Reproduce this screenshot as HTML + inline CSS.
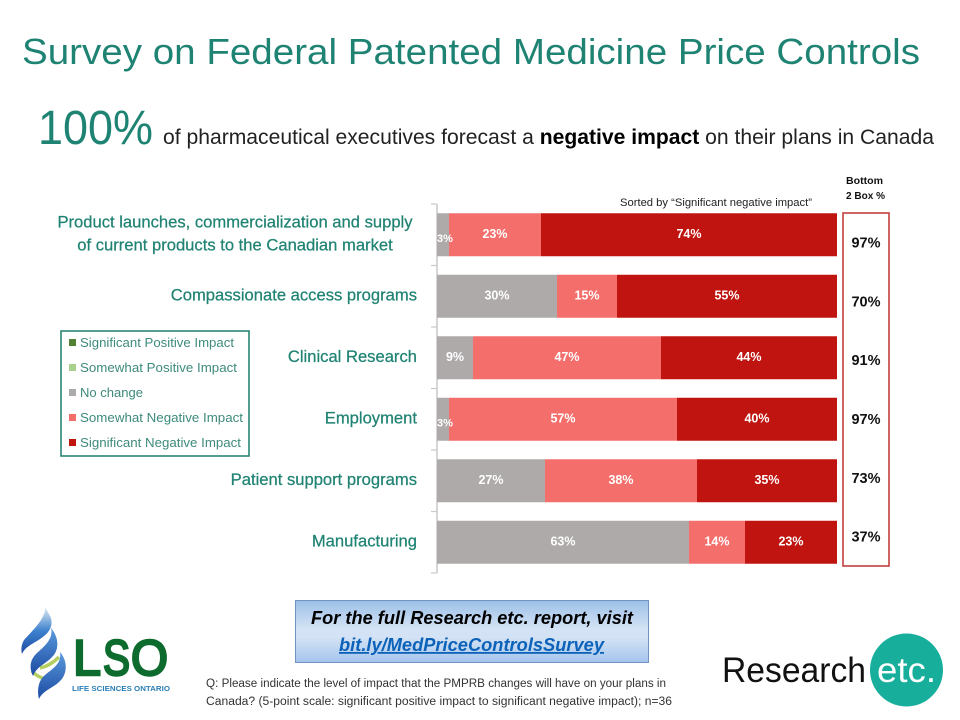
<!DOCTYPE html>
<html lang="en">
<head>
<meta charset="utf-8">
<title>Survey on Federal Patented Medicine Price Controls</title>
<style>
html,body{margin:0;padding:0;background:#fff;width:960px;height:720px;overflow:hidden}
svg{display:block;font-family:"Liberation Sans",sans-serif}
</style>
</head>
<body>
<svg id="slide" xmlns="http://www.w3.org/2000/svg" width="960" height="720" viewBox="0 0 960 720">
  <defs>
    <linearGradient id="cta" x1="0" y1="0" x2="0" y2="1">
      <stop offset="0" stop-color="#9cc0e8"/>
      <stop offset=".45" stop-color="#d3e2f4"/>
      <stop offset=".6" stop-color="#d3e2f4"/>
      <stop offset="1" stop-color="#a4c5ee"/>
    </linearGradient>
    <linearGradient id="helix" x1="0" y1="0" x2="0" y2="1">
      <stop offset="0" stop-color="#e3ecf4"/>
      <stop offset=".5" stop-color="#3f83cf"/>
      <stop offset="1" stop-color="#1c4aa3"/>
    </linearGradient>
    <linearGradient id="helix2" x1="0" y1="0" x2="0" y2="1">
      <stop offset="0" stop-color="#5b9bdc"/>
      <stop offset="1" stop-color="#1c4aa3"/>
    </linearGradient>
  </defs>
  <rect width="960" height="720" fill="#fff"/>
  <text x="22" y="64" font-size="36" fill="#1f8374" textLength="898" lengthAdjust="spacingAndGlyphs">Survey on Federal Patented Medicine Price Controls</text>
  <text x="38" y="144" font-size="48" fill="#1f8374" textLength="115" lengthAdjust="spacingAndGlyphs">100%</text>
  <text x="163" y="144" font-size="21" fill="#222" textLength="771" lengthAdjust="spacingAndGlyphs">of pharmaceutical executives forecast a <tspan font-weight="700" fill="#000">negative impact</tspan> on their plans in Canada</text>

  <g id="chart"></g>

  <text x="620" y="206" font-size="11" fill="#222" textLength="192" lengthAdjust="spacingAndGlyphs">Sorted by “Significant negative impact”</text>
  <text x="846" y="184" font-size="10.5" font-weight="700" fill="#111" textLength="37" lengthAdjust="spacingAndGlyphs">Bottom</text>
  <text x="846" y="199" font-size="10.5" font-weight="700" fill="#111" textLength="39" lengthAdjust="spacingAndGlyphs">2 Box %</text>

  <g>
    <rect x="61" y="331" width="188" height="125" fill="#fff" stroke="#2a8574" stroke-width="1.6"/>
    <rect x="69" y="339" width="7" height="7" fill="#548235"/>
    <text x="80" y="347" font-size="12.5" fill="#3e8a7d" textLength="154" lengthAdjust="spacingAndGlyphs">Significant Positive Impact</text>
    <rect x="69" y="364" width="7" height="7" fill="#a9d18e"/>
    <text x="80" y="372" font-size="12.5" fill="#3e8a7d" textLength="157" lengthAdjust="spacingAndGlyphs">Somewhat Positive Impact</text>
    <rect x="69" y="389" width="7" height="7" fill="#aeaaaa"/>
    <text x="80" y="397" font-size="12.5" fill="#3e8a7d" textLength="63" lengthAdjust="spacingAndGlyphs">No change</text>
    <rect x="69" y="414" width="7" height="7" fill="#f46f6b"/>
    <text x="80" y="422" font-size="12.5" fill="#3e8a7d" textLength="163" lengthAdjust="spacingAndGlyphs">Somewhat Negative Impact</text>
    <rect x="69" y="439" width="7" height="7" fill="#bf140f"/>
    <text x="80" y="447" font-size="12.5" fill="#3e8a7d" textLength="161" lengthAdjust="spacingAndGlyphs">Significant Negative Impact</text>
  </g>

  <g>
    <rect x="295.5" y="600.5" width="353" height="62" fill="url(#cta)" stroke="#6f94c0"/>
    <text x="311" y="624" font-size="18" font-weight="700" font-style="italic" fill="#000" textLength="322" lengthAdjust="spacingAndGlyphs">For the full Research etc. report, visit</text>
    <text x="339" y="651" font-size="18" font-weight="700" font-style="italic" fill="#0b62b8" text-decoration="underline" textLength="265" lengthAdjust="spacingAndGlyphs">bit.ly/MedPriceControlsSurvey</text>
  </g>

  <text x="206" y="687" font-size="11.5" fill="#333" textLength="460" lengthAdjust="spacingAndGlyphs">Q: Please indicate the level of impact that the PMPRB changes will have on your plans in</text>
  <text x="206" y="705" font-size="11.5" fill="#333" textLength="466" lengthAdjust="spacingAndGlyphs">Canada? (5-point scale: significant positive impact to significant negative impact); n=36</text>

  <g>
    <path fill="none" stroke="#b4cf5f" stroke-width="3.5" d="M40 668Q50 666 59 657"/>
    <path fill="none" stroke="#b4cf5f" stroke-width="3.5" d="M32 671Q40 680 54 680"/>
    <path fill="url(#helix)" d="M45 607C46 618 33 630 24 640C21 645 21 650 22 654C26 645 36 643 44 636C52 630 53 622 50 616C48 612 46 609 45 607Z"/>
    <path fill="url(#helix2)" d="M51 628C54 640 42 648 36 654C30 660 29 668 33 676C37 666 46 664 53 656C60 648 58 636 51 628Z"/>
    <path fill="url(#helix2)" d="M60 652C62 664 52 669 45 675C38 681 37 690 39 699C43 690 54 688 61 680C68 672 67 660 60 652Z"/>
    <text x="73" y="675" font-size="50" fill="#0e6b2e" stroke="#0e6b2e" stroke-width="2.5" textLength="28" lengthAdjust="spacingAndGlyphs">L</text>
    <text x="103" y="675" font-size="50" fill="#0e6b2e" stroke="#0e6b2e" stroke-width="2.5" textLength="27" lengthAdjust="spacingAndGlyphs">S</text>
    <text x="131" y="675" font-size="50" fill="#0e6b2e" stroke="#0e6b2e" stroke-width="2.5" textLength="37" lengthAdjust="spacingAndGlyphs">O</text>
    <text x="72" y="691" font-size="7" font-weight="700" fill="#2a7fb8" textLength="98" lengthAdjust="spacingAndGlyphs">LIFE SCIENCES ONTARIO</text>
  </g>

  <g>
    <text x="722" y="682" font-size="35" fill="#111" textLength="144" lengthAdjust="spacingAndGlyphs">Research</text>
    <circle cx="906.5" cy="670" r="36.5" fill="#17ae9b"/>
    <text x="877" y="682" font-size="35" fill="#fff" textLength="59" lengthAdjust="spacingAndGlyphs">etc.</text>
  </g>
</svg>

<script>
const categories = [
  "Product launches, commercialization and supply|of current products to the Canadian market",
  "Compassionate access programs",
  "Clinical Research",
  "Employment",
  "Patient support programs",
  "Manufacturing"
];
const seriesNames = ["Significant Positive Impact", "Somewhat Positive Impact", "No change", "Somewhat Negative Impact", "Significant Negative Impact"];
const significantPositive = [0, 0, 0, 0, 0, 0];
const somewhatPositive = [0, 0, 0, 0, 0, 0];
const noChange = [3, 30, 9, 3, 27, 63];
const somewhatNegative = [23, 15, 47, 57, 38, 14];
const significantNegative = [74, 55, 44, 40, 35, 23];
const bottomTwoBox = [97, 70, 91, 97, 73, 37];

const NS = "http://www.w3.org/2000/svg";
const chart = document.getElementById("chart");
const allSeries = [significantPositive, somewhatPositive, noChange, somewhatNegative, significantNegative];
const seriesColors = ["#548235", "#a9d18e", "#aeaaaa", "#f46f6b", "#bf140f"];
const seriesKeys = ["significant-positive", "somewhat-positive", "no-change", "somewhat-negative", "significant-negative"];

const plot = { left: 437, right: 837, top: 204, bottom: 573 };
function xScale(v) { return plot.left + (plot.right - plot.left) * v / 100; }
function bandStep() { return (plot.bottom - plot.top) / categories.length; }
function bandCenter(i) { return plot.top + bandStep() * (i + 0.5); }
const barHeight = 43;

const boxFrame = { left: 843, right: 889, top: 213, bottom: 566 };
function boxCenter(i) { return boxFrame.top + (boxFrame.bottom - boxFrame.top) / categories.length * (i + 0.5); }

function mk(tag, attrs, text) {
  const el = document.createElementNS(NS, tag);
  for (const k in attrs) el.setAttribute(k, attrs[k]);
  if (text !== undefined) el.textContent = text;
  chart.appendChild(el);
  return el;
}

const axisLine = mk("line", { x1: plot.left, x2: plot.left, y1: plot.top, y2: plot.bottom, stroke: "#c9c9c9", "stroke-width": 1.5 });



for (let t = 0; t <= categories.length; t++) {
  const y = plot.top + bandStep() * t;
  const tick = mk("line", { x1: plot.left - 6, x2: plot.left, y1: y, y2: y, stroke: "#c9c9c9", "stroke-width": 1.2 });
  
  
}

categories.forEach(function (cat, i) {
  const lines = cat.split("|");
  lines.forEach(function (line, j) {
    const yMid = bandCenter(i) + (j - (lines.length - 1) / 2) * 23;
    const multi = lines.length > 1;
    const label = mk("text", { x: multi ? 235 : 417, y: yMid + 4, "text-anchor": multi ? "middle" : "end", "font-size": 16.6, fill: "#208373", "stroke": "#208373", "stroke-width": 0.25 }, line);
    
    
  });

  let cum = 0;
  allSeries.forEach(function (series, s) {
    const v = series[i];
    const x0 = xScale(cum);
    const x1 = xScale(cum + v);
    const bar = mk("rect", { x: x0, y: bandCenter(i) - barHeight / 2, width: Math.max(0, x1 - x0), height: barHeight, fill: seriesColors[s] });
    
    
    cum += v;
  });

  cum = 0;
  allSeries.forEach(function (series, s) {
    const v = series[i];
    if (v > 0) {
      const narrow = v < 5;
      const valueLabel = mk("text", { x: xScale(cum + v / 2) + (narrow ? 2 : 0), y: bandCenter(i) + (narrow ? 7 : 3), "text-anchor": "middle", "font-size": narrow ? 11 : 12.5, "font-weight": 700, fill: "#fff" }, v + "%");
      
      
    }
    cum += v;
  });

  const boxValue = mk("text", { x: (boxFrame.left + boxFrame.right) / 2, y: boxCenter(i) + 5, "text-anchor": "middle", "font-size": 14.5, "font-weight": 700, fill: "#111" }, bottomTwoBox[i] + "%");
  
  
});

const boxRect = mk("rect", { x: boxFrame.left, y: boxFrame.top, width: boxFrame.right - boxFrame.left, height: boxFrame.bottom - boxFrame.top, fill: "none", stroke: "#c3403f", "stroke-width": 1.6 });


</script>
</body>
</html>
